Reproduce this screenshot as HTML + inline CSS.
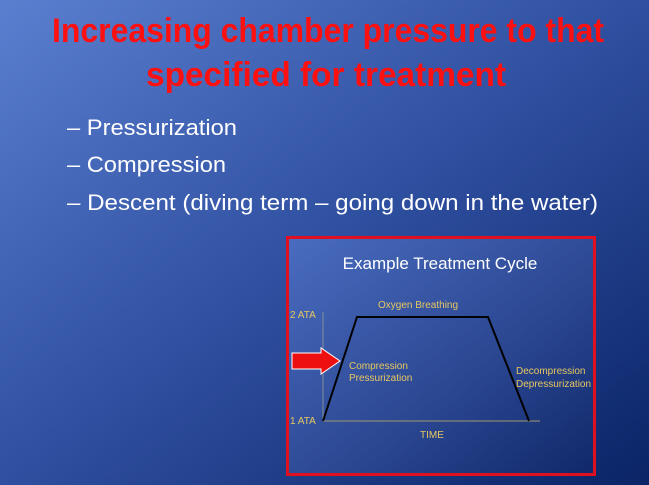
<!DOCTYPE html>
<html><head><meta charset="utf-8"><style>
html,body{margin:0;padding:0;width:649px;height:485px;overflow:hidden}
</style></head><body>
<svg width="649" height="485" viewBox="0 0 649 485" xmlns="http://www.w3.org/2000/svg">
<defs>
<linearGradient id="bg" x1="0" y1="0" x2="1" y2="1">
<stop offset="0" stop-color="#5b7fd0"/>
<stop offset="0.5" stop-color="#2f4fa0"/>
<stop offset="1" stop-color="#0a2466"/>
</linearGradient>
<linearGradient id="bx" x1="0" y1="0" x2="1" y2="1">
<stop offset="0" stop-color="#4a6cc0"/>
<stop offset="0.6" stop-color="#2a4690"/>
<stop offset="1" stop-color="#10286a"/>
</linearGradient>
</defs>
<rect width="649" height="485" fill="url(#bg)"/>
<g font-family="Liberation Sans, sans-serif" font-weight="bold" fill="#ff1010" font-size="34">
<text x="52" y="42" textLength="552" lengthAdjust="spacingAndGlyphs">Increasing chamber pressure to that</text>
<text x="146" y="86" textLength="360" lengthAdjust="spacingAndGlyphs">specified for treatment</text>
</g>
<g font-family="Liberation Sans, sans-serif" fill="#ffffff" font-size="22">
<text x="67" y="135" textLength="170" lengthAdjust="spacingAndGlyphs">– Pressurization</text>
<text x="67" y="172" textLength="159" lengthAdjust="spacingAndGlyphs">– Compression</text>
<text x="67" y="210" textLength="531" lengthAdjust="spacingAndGlyphs">– Descent (diving term – going down in the water)</text>
</g>
<rect x="287.5" y="237.5" width="307" height="237" fill="url(#bx)" stroke="#e01020" stroke-width="3"/>
<text x="440" y="269" text-anchor="middle" font-family="Liberation Sans, sans-serif" font-size="17" fill="#ffffff">Example Treatment Cycle</text>
<g font-family="Liberation Sans, sans-serif" font-size="10" fill="#e8c860">
<text x="378" y="308">Oxygen Breathing</text>
<text x="290" y="318">2 ATA</text>
<text x="290" y="424">1 ATA</text>
<text x="349" y="369">Compression</text>
<text x="349" y="381">Pressurization</text>
<text x="516" y="374">Decompression</text>
<text x="516" y="387">Depressurization</text>
<text x="420" y="438">TIME</text>
</g>
<line x1="323" y1="312" x2="323" y2="421" stroke="#8090a0" stroke-width="1"/>
<line x1="323" y1="421" x2="540" y2="421" stroke="#a09870" stroke-width="1"/>
<polyline points="323,421 357,317 488,317 529,421" fill="none" stroke="#000" stroke-width="2"/>
<polygon points="292,353 321,353 321,348 340,361 321,374 321,369 292,369" fill="#ee1010" stroke="#fff" stroke-width="1"/>
</svg>
</body></html>
